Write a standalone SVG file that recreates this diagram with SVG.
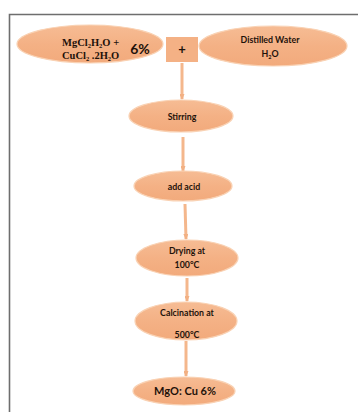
<svg xmlns="http://www.w3.org/2000/svg" width="358" height="412" viewBox="0 0 358 412">
<defs>
<linearGradient id="g" x1="0" y1="0" x2="0" y2="1">
<stop offset="0" stop-color="#F6BC94"/>
<stop offset="0.5" stop-color="#F4B185"/>
<stop offset="1" stop-color="#F2AA7C"/>
</linearGradient>
<marker id="ah" markerWidth="6" markerHeight="5" refX="5" refY="2.5" orient="auto" markerUnits="userSpaceOnUse">
<path d="M0,0 L6,2.5 L0,5 Z" fill="#F2B083"/>
</marker>
</defs>
<style>
.n{fill:url(#g);stroke:#F9D2B4;stroke-width:1.2}
.c{stroke:#F4B78C;stroke-width:3;fill:none;marker-end:url(#ah)}
.t{font-family:Lato,"Open Sans","Liberation Sans",sans-serif;font-weight:bold;fill:#1e120a;text-anchor:middle;font-size:8.8px}
.s{font-family:"Liberation Serif",serif;font-weight:bold;fill:#1e120a;font-size:10.5px}
</style>
<rect width="358" height="412" fill="#fff"/>
<path d="M9.5,412 V14.5 H358" fill="none" stroke="#6e6e6e" stroke-width="1.6"/>
<g id="connectors">
<line class="c" x1="182" y1="63" x2="182" y2="99"/>
<line class="c" x1="183" y1="137" x2="183" y2="171"/>
<line class="c" x1="185" y1="204" x2="186" y2="239"/>
<line class="c" x1="187" y1="278" x2="187" y2="301"/>
<line class="c" x1="186" y1="341" x2="186" y2="376"/>
</g>
<g id="n1">
<ellipse class="n" cx="90" cy="44" rx="73" ry="19"/>
<text class="s" x="62" y="46">MgCl<tspan font-size="6.5" dy="2">2</tspan><tspan dy="-2">H</tspan><tspan font-size="6.5" dy="2">2</tspan><tspan dy="-2">O +</tspan></text>
<text class="s" x="62" y="59">CuCl<tspan font-size="6.5" dy="2">2</tspan><tspan dy="-2"> .2H</tspan><tspan font-size="6.5" dy="2">2</tspan><tspan dy="-2">O</tspan></text>
<text class="t" x="140" y="54" style="font-size:14px">6%</text>
</g>
<g id="plus">
<rect x="166" y="37" width="32" height="25" fill="#F4B185"/>
<text class="t" x="182" y="54" style="font-size:13px">+</text>
</g>
<g id="n2">
<ellipse class="n" cx="273" cy="46" rx="74" ry="20"/>
<text class="t" x="270" y="43">Distilled Water</text>
<text class="t" x="270" y="57">H<tspan font-size="5.5" dy="2">2</tspan><tspan dy="-2">O</tspan></text>
</g>
<g id="n3">
<ellipse class="n" cx="181" cy="116" rx="52" ry="16"/>
<text class="t" x="182" y="120">Stirring</text>
</g>
<g id="n4">
<ellipse class="n" cx="183" cy="186" rx="49" ry="15"/>
<text class="t" x="184" y="190">add acid</text>
</g>
<g id="n5">
<ellipse class="n" cx="187" cy="258" rx="51" ry="18"/>
<text class="t" x="187" y="254">Drying at</text>
<text class="t" x="187" y="268">100°C</text>
</g>
<g id="n6">
<ellipse class="n" cx="186" cy="321" rx="51" ry="19"/>
<text class="t" x="187" y="316">Calcination at</text>
<text class="t" x="187" y="338">500°C</text>
</g>
<g id="n7">
<ellipse class="n" cx="184" cy="391" rx="51" ry="14"/>
<text class="t" x="185" y="395" style="font-size:11px">MgO: Cu 6%</text>
</g>
</svg>
